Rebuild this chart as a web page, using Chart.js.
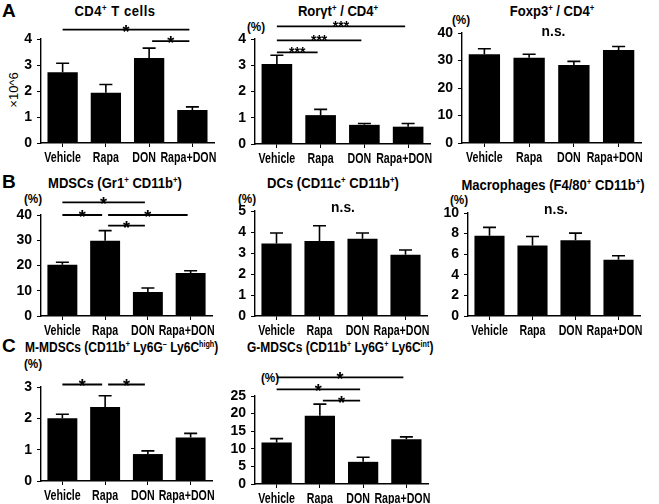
<!DOCTYPE html>
<html>
<head>
<meta charset="utf-8">
<script src="https://cdn.jsdelivr.net/npm/chart.js@4.4.1/dist/chart.umd.min.js"></script>
<style>
  body { margin: 0; width: 659px; height: 504px; background: #fff; position: relative; overflow: hidden;
         font-family: "Liberation Sans", Arial, sans-serif; color: #000; }
  canvas { position: absolute; }
  .t { position: absolute; white-space: nowrap; font-weight: bold; font-size: 15px; transform: translate(-50%, -50%) scaleX(0.87); }
  .l { position: absolute; white-space: nowrap; font-weight: bold; font-size: 15px; transform-origin: 0 50%; transform: translateY(-50%) scaleX(0.8); }
  .u { position: absolute; white-space: nowrap; font-weight: bold; font-size: 13px; transform: translate(-50%, -50%) scaleX(0.9); }
  .p { position: absolute; font-size: 19px; transform: translateY(-50%); font-weight: bold; }
  sup { font-size: 0.6em; vertical-align: 0.55em; line-height: 0; }
</style>
</head>
<body>
<div class="p" style="left:2px;top:11px">A</div>
<div class="p" style="left:2px;top:182px">B</div>
<div class="p" style="left:2px;top:346px">C</div>

<div class="t" style="left:115px;top:10px;letter-spacing:0.6px">CD4<sup>+</sup> T cells</div>
<div class="t" style="left:338px;top:10px">Rorγt<sup>+</sup> / CD4<sup>+</sup></div>
<div class="t" style="left:552px;top:10px">Foxp3<sup>+</sup> / CD4<sup>+</sup></div>
<div class="t" style="left:115px;top:182px">MDSCs (Gr1<sup>+</sup> CD11b<sup>+</sup>)</div>
<div class="t" style="left:333px;top:182px">DCs (CD11c<sup>+</sup> CD11b<sup>+</sup>)</div>
<div class="t" style="left:553px;top:184px">Macrophages (F4/80<sup>+</sup> CD11b<sup>+</sup>)</div>
<div class="l" style="left:25px;top:346px">M-MDSCs (CD11b<sup>+</sup> Ly6G<sup>–</sup> Ly6C<sup>high</sup>)</div>
<div class="l" style="left:247px;top:346px">G-MDSCs (CD11b<sup>+</sup> Ly6G<sup>+</sup> Ly6C<sup>int</sup>)</div>

<div class="u" style="left:13px;top:90px;transform:translate(-50%,-50%) rotate(-90deg);font-weight:normal;font-size:13px">×10^6</div>
<div class="u" style="left:256px;top:26px">(%)</div>
<div class="u" style="left:461px;top:19px">(%)</div>
<div class="u" style="left:33px;top:198px">(%)</div>
<div class="u" style="left:247px;top:198px">(%)</div>
<div class="u" style="left:459px;top:199px">(%)</div>
<div class="u" style="left:33px;top:363px">(%)</div>
<div class="u" style="left:270px;top:377px">(%)</div>

<script>
const categories = ['Vehicle', 'Rapa', 'DON', 'Rapa+DON'];

// means and upper error (SEM)
const cd4Mean = [2.72, 1.93, 3.27, 1.27];
const cd4Err = [0.35, 0.32, 0.38, 0.12];
const rorMean = [3.05, 1.1, 0.73, 0.66];
const rorErr = [0.33, 0.22, 0.05, 0.12];
const foxMean = [32.3, 31.0, 28.4, 33.8];
const foxErr = [2.0, 1.3, 1.3, 1.3];
const mdscMean = [20.3, 29.8, 9.5, 17.0];
const mdscErr = [1.0, 4.0, 1.6, 0.9];
const dcMean = [3.45, 3.57, 3.68, 2.92];
const dcErr = [0.5, 0.73, 0.27, 0.22];
const macMean = [7.8, 6.85, 7.35, 5.45];
const macErr = [0.8, 0.87, 0.7, 0.4];
const mMean = [2.0, 2.36, 0.86, 1.39];
const mErr = [0.13, 0.36, 0.1, 0.13];
const gMean = [11.8, 19.4, 6.3, 12.7];
const gErr = [1.1, 3.3, 1.3, 0.7];

// significance brackets: [from, to, height in data units, label]
const cd4Sig = [[0, 3, 4.36, '*'], [2, 3, 3.92, '*']];
const rorSig = [[0, 3, 4.48, '***'], [0, 2, 3.95, '***'], [0, 1, 3.49, '***']];
const mdscSig = [[0, 2, 45, '*'], [0, 1, 40, '*'], [1, 3, 40, '*'], [1, 2, 35.8, '*']];
const mSig = [[0, 1, 3.08, '*'], [1, 2, 3.08, '*']];
const gSig = [[0, 3, 30.3, '*'], [0, 2, 26.9, '*'], [1, 2, 23.7, '*']];

// box = [axis left, axis right, top tick y, baseline y] in page pixels
const panels = [
    { mean: cd4Mean, err: cd4Err, max: 4, step: 1, box: [41, 214, 39, 143], sig: cd4Sig },
    { mean: rorMean, err: rorErr, max: 4, step: 1, box: [255, 430, 39, 144], sig: rorSig },
    { mean: foxMean, err: foxErr, max: 40, step: 10, box: [462, 641, 33, 143], ns: 40.4 },
    { mean: mdscMean, err: mdscErr, max: 40, step: 10, box: [41, 212, 215, 316], sig: mdscSig },
    { mean: dcMean, err: dcErr, max: 5, step: 1, box: [255, 427, 211, 316], ns: 5.13 },
    { mean: macMean, err: macErr, max: 10, step: 2, box: [468, 640, 213, 316], ns: 10.3 },
    { mean: mMean, err: mErr, max: 3, step: 1, box: [41, 212, 387, 481], sig: mSig },
    { mean: gMean, err: gErr, max: 25, step: 5, box: [255, 428, 396, 484], sig: gSig }
];

const FONT = '"Liberation Sans", Arial, sans-serif';
const labelShift = [0, 0, -5, -4];

const barExtras = {
    id: 'barExtras',
    afterDatasetsDraw(chart, args, opts) {
        const p = opts.panel;
        const ctx = chart.ctx;
        const xs = chart.scales.x, ys = chart.scales.y;
        ctx.save();
        ctx.strokeStyle = '#000';
        ctx.fillStyle = '#000';
        ctx.lineWidth = 1.6;
        // upper error bars
        chart.getDatasetMeta(0).data.forEach((bar, i) => {
            const top = ys.getPixelForValue(p.mean[i] + p.err[i]);
            ctx.beginPath();
            ctx.moveTo(bar.x, bar.y);
            ctx.lineTo(bar.x, top);
            ctx.moveTo(bar.x - 6.5, top);
            ctx.lineTo(bar.x + 6.5, top);
            ctx.stroke();
        });
        // significance lines
        ctx.lineWidth = 1.8;
        (p.sig || []).forEach(([a, b, v, lab]) => {
            const x1 = xs.getPixelForValue(a) + (a > 0 ? 3 : 0);
            const x2 = xs.getPixelForValue(b) - 3;
            const y = ys.getPixelForValue(v);
            ctx.beginPath();
            ctx.moveTo(x1, y);
            ctx.lineTo(x2, y);
            ctx.stroke();
            ctx.font = 'bold ' + (lab.length > 1 ? 14 : 18) + 'px ' + FONT;
            ctx.textAlign = 'center';
            ctx.textBaseline = 'alphabetic';
            ctx.fillText(lab, (x1 + x2) / 2, y + (lab.length > 1 ? 5 : 8));
        });
        if (p.ns !== undefined) {
            ctx.font = 'bold 15px ' + FONT;
            ctx.textAlign = 'center';
            ctx.textBaseline = 'middle';
            ctx.save();
            ctx.translate((chart.chartArea.left + chart.chartArea.right) / 2 + 2, ys.getPixelForValue(p.ns));
            ctx.scale(0.92, 1);
            ctx.fillText('n.s.', 0, 0);
            ctx.restore();
        }
        // category labels, condensed like the original
        ctx.font = 'bold 14px ' + FONT;
        ctx.textAlign = 'center';
        ctx.textBaseline = 'middle';
        const ly = chart.chartArea.bottom + 15;
        categories.forEach((name, i) => {
            const lx = xs.getPixelForValue(i) + labelShift[i];
            ctx.save();
            ctx.translate(lx, ly);
            ctx.scale(0.76, 1.05);
            ctx.fillText(name, 0, 0);
            ctx.restore();
        });
        ctx.restore();
    }
};

panels.forEach(p => {
    const [xl, xr, yt, yb] = p.box;
    const padL = 40, padT = 50, padR = 30, padB = 30;
    const w = xr - xl + padL + padR;
    const h = yb - yt + padT + padB;
    const c = document.createElement('canvas');
    c.width = w;
    c.height = h;
    c.style.left = (xl - padL) + 'px';
    c.style.top = (yt - padT) + 'px';
    c.style.width = w + 'px';
    c.style.height = h + 'px';
    document.body.appendChild(c);

    new Chart(c, {
        type: 'bar',
        data: {
            labels: categories,
            datasets: [{
                data: p.mean,
                backgroundColor: '#000',
                borderWidth: 0,
                barPercentage: 0.7,
                categoryPercentage: 1
            }]
        },
        options: {
            responsive: false,
            animation: false,
            devicePixelRatio: 1,
            layout: { padding: { left: 0, top: padT, right: padR, bottom: 0 } },
            plugins: {
                legend: { display: false },
                tooltip: { enabled: false },
                barExtras: { panel: p }
            },
            scales: {
                x: {
                    grid: { drawOnChartArea: false, offset: false, tickLength: 4, color: '#000', lineWidth: 1 },
                    border: { color: '#000', width: 1.4 },
                    ticks: { display: false },
                    afterFit(s) { s.height = padB; }
                },
                y: {
                    min: 0,
                    max: p.max,
                    grid: { drawOnChartArea: false, tickLength: 4, color: '#000', lineWidth: 1 },
                    border: { color: '#000', width: 1.4 },
                    ticks: { stepSize: p.step, autoSkip: false, color: '#000', font: { family: FONT, size: 14, weight: 'bold' }, padding: 5 },
                    afterFit(s) { s.width = padL; }
                }
            }
        },
        plugins: [barExtras]
    });
});
</script>
</body>
</html>
